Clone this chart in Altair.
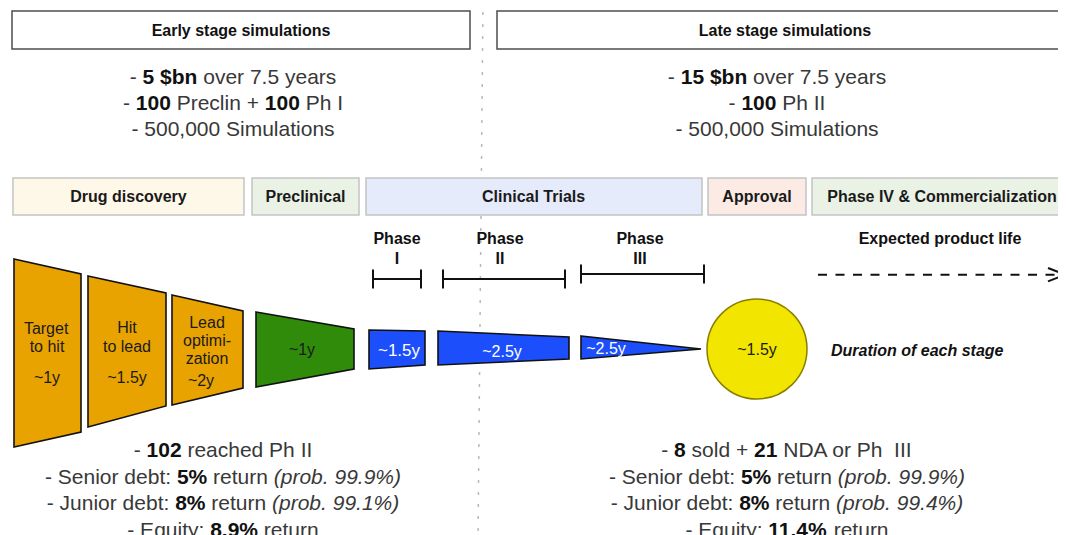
import altair as alt
import pandas as pd

# ---------------- content ----------------
PANEL_TITLES = ["Early stage simulations", "Late stage simulations"]
PANEL_X0 = [12, 497]
PANEL_X1 = [470, 1095]
PANEL_CX = [241, 785]

EARLY_FACTS = [
    [("- ", "r"), ("5 $bn", "b"), (" over 7.5 years", "r")],
    [("- ", "r"), ("100", "b"), (" Preclin + ", "r"), ("100", "b"), (" Ph I", "r")],
    [("- 500,000 Simulations", "r")],
]
LATE_FACTS = [
    [("- ", "r"), ("15 $bn", "b"), (" over 7.5 years", "r")],
    [("- ", "r"), ("100", "b"), (" Ph II", "r")],
    [("- 500,000 Simulations", "r")],
]
FACT_Y = [77, 103, 129]
FACT_CX = [233, 777]

EARLY_RESULTS = [
    [("- ", "r"), ("102", "b"), (" reached Ph II", "r")],
    [("- Senior debt: ", "r"), ("5%", "b"), (" return ", "r"), ("(prob. 99.9%)", "i")],
    [("- Junior debt: ", "r"), ("8%", "b"), (" return ", "r"), ("(prob. 99.1%)", "i")],
    [("- Equity: ", "r"), ("8.9%", "b"), (" return", "r")],
]
LATE_RESULTS = [
    [("- ", "r"), ("8", "b"), (" sold + ", "r"), ("21", "b"), (" NDA or Ph\u00a0 III", "r")],
    [("- Senior debt: ", "r"), ("5%", "b"), (" return ", "r"), ("(prob. 99.9%)", "i")],
    [("- Junior debt: ", "r"), ("8%", "b"), (" return ", "r"), ("(prob. 99.4%)", "i")],
    [("- Equity: ", "r"), ("11.4%", "b"), (" return", "r")],
]
RESULT_Y = [450, 477, 503, 530]
RESULT_CX = [223, 787]

STAGE_NAMES = ["Drug discovery", "Preclinical", "Clinical Trials", "Approval",
               "Phase IV & Commercialization"]
STAGE_X0 = [13, 252, 366, 708, 812]
STAGE_X1 = [244, 359, 702, 806, 1095]
STAGE_TEXT_X = [128.5, 305.5, 534, 757, 942]
STAGE_FILL = ["#FEF8E8", "#EAF2E6", "#E6EBFB", "#FBEBE4", "#EAF2E6"]

PHASE_NUMS = ["I", "II", "III"]
PHASE_CX = [397, 500, 640]
PHASE_X0 = [373, 443, 581]
PHASE_X1 = [421, 565, 704]
PHASE_BAR_Y = [279, 279, 274]

SHAPE_NAMES = ["Target to hit", "Hit to lead", "Lead optimization", "Preclinical",
               "Phase I", "Phase II", "Phase III"]
SHAPE_FILL = ["#E9A301", "#E9A301", "#E9A301", "#2F8B09", "#1C4FFB", "#1C4FFB", "#1C4FFB"]
SHAPE_X0 = [14, 88, 172, 256, 369, 438, 581]
SHAPE_X1 = [81, 166, 243, 354, 425, 569, 701]
SHAPE_TOP0 = [259, 276, 295, 312, 330, 331, 336]
SHAPE_TOP1 = [274, 293, 311, 329, 331, 337, 349]
SHAPE_BOT0 = [447, 427, 405, 387, 369, 365, 359]
SHAPE_BOT1 = [432, 406, 388, 369, 365, 359, 349]

SHAPE_TEXT = ["Target", "to hit", "~1y", "Hit", "to lead", "~1.5y", "Lead", "optimi-",
              "zation", "~2y", "~1y", "~1.5y", "~2.5y", "~2.5y", "~1.5y"]
SHAPE_TEXT_X = [47, 47, 47, 127, 127, 127, 207, 207, 207, 201, 302, 399, 502, 606, 757]
SHAPE_TEXT_Y = [328, 346, 377, 327, 346, 377, 322, 340, 358, 380, 349, 350, 351, 348, 349]
SHAPE_TEXT_SIZE = [16, 16, 16, 16, 16, 16, 16, 16, 16, 16, 16, 17, 16, 16, 16]
SHAPE_TEXT_COLOR = ["#1a1a1a"] * 11 + ["#ffffff"] * 3 + ["#1a1a1a"]

APPROVAL_CX, APPROVAL_CY, APPROVAL_D = 757, 349, 100
LIFE_LABEL = "Expected product life"
NOTE_LABEL = "Duration of each stage"

# ---------------- Helvetica / Liberation Sans metrics ----------------
_UP = "ABCDEFGHIJKLMNOPQRSTUVWXYZ"
_LO = "abcdefghijklmnopqrstuvwxyz"
REG_W = {' ': 278, '!': 278, '"': 355, '#': 556, '$': 556, '%': 889, '&': 667, "'": 191,
         '(': 333, ')': 333, '*': 389, '+': 584, ',': 278, '-': 333, '.': 278, '/': 278,
         ':': 278, ';': 278, '?': 556, '~': 584, '\u00a0': 278}
BOLD_W = {' ': 278, '!': 333, '"': 474, '#': 556, '$': 556, '%': 889, '&': 722, "'": 238,
          '(': 333, ')': 333, '*': 389, '+': 584, ',': 278, '-': 333, '.': 278, '/': 278,
          ':': 333, ';': 333, '?': 611, '~': 584, '\u00a0': 278}
for d in "0123456789":
    REG_W[d] = 556
    BOLD_W[d] = 556
REG_W.update(zip(_UP, [667, 667, 722, 722, 667, 611, 778, 722, 278, 500, 667, 556, 833,
                       722, 778, 667, 778, 722, 667, 611, 722, 667, 944, 667, 667, 611]))
REG_W.update(zip(_LO, [556, 556, 500, 556, 556, 278, 556, 556, 222, 222, 500, 222, 833,
                       556, 556, 556, 556, 333, 500, 278, 556, 500, 722, 500, 500, 500]))
BOLD_W.update(zip(_UP, [722, 722, 722, 722, 667, 611, 778, 722, 278, 556, 722, 611, 833,
                        722, 778, 667, 778, 722, 667, 611, 722, 667, 944, 667, 667, 611]))
BOLD_W.update(zip(_LO, [556, 611, 556, 611, 556, 333, 611, 611, 278, 278, 556, 278, 889,
                        611, 611, 611, 611, 389, 556, 333, 611, 556, 778, 556, 556, 500]))


def text_width(s, style, size):
    tbl = BOLD_W if "b" in style else REG_W
    return sum(tbl.get(c, 556) for c in s) * size / 1000.0


rows = []


def add_line(segs, cx, y, size, reg_color="#383838", bold_color="#111111", align="center"):
    widths = [text_width(t, st, size) for t, st in segs]
    cur = cx - sum(widths) / 2 if align == "center" else cx
    for (t, st), w in zip(segs, widths):
        lead = len(t) - len(t.lstrip(" "))
        rows.append(dict(x=cur + text_width(" " * lead, st, size), y=y + 0.07 * size,
                         text=t.strip(" "), size=size, style=st,
                         color=bold_color if "b" in st else reg_color))
        cur += w


for title, cx in zip(PANEL_TITLES, PANEL_CX):
    add_line([(title, "b")], cx, 30, 16)
for facts, cx in zip([EARLY_FACTS, LATE_FACTS], FACT_CX):
    for segs, y in zip(facts, FACT_Y):
        add_line(segs, cx, y, 21)
for res, cx in zip([EARLY_RESULTS, LATE_RESULTS], RESULT_CX):
    for segs, y in zip(res, RESULT_Y):
        add_line(segs, cx, y, 21)
for name, cx in zip(STAGE_NAMES, STAGE_TEXT_X):
    add_line([(name, "b")], cx, 196, 16, bold_color="#1a1a1a")
for num, cx in zip(PHASE_NUMS, PHASE_CX):
    add_line([("Phase", "b")], cx, 238, 16, bold_color="#111111")
    add_line([(num, "b")], cx, 258, 16, bold_color="#111111")
add_line([(LIFE_LABEL, "b")], 940, 238, 16)
add_line([(NOTE_LABEL, "bi")], 831, 350, 16, align="left")
for t, x, y, s, c in zip(SHAPE_TEXT, SHAPE_TEXT_X, SHAPE_TEXT_Y, SHAPE_TEXT_SIZE, SHAPE_TEXT_COLOR):
    add_line([(t, "r")], x, y, s, reg_color=c)

text_df = pd.DataFrame(rows)

# ---------------- geometry tables ----------------
XS = alt.Scale(domain=[8, 1058], nice=False, zero=False)
YS = alt.Scale(domain=[8, 535], reverse=True, nice=False, zero=False)

rect_rows = []
for x0, x1 in zip(PANEL_X0, PANEL_X1):
    rect_rows.append(dict(x=x0, x2=x1, y=11, y2=49, fill="#ffffff", stroke="#4d4d4d"))
for x0, x1, f in zip(STAGE_X0, STAGE_X1, STAGE_FILL):
    rect_rows.append(dict(x=x0, x2=x1, y=178, y2=215, fill=f, stroke="#c4c4c4"))
rect_df = pd.DataFrame(rect_rows)

area_rows = []
for n, f, x0, x1, t0, t1, b0, b1 in zip(SHAPE_NAMES, SHAPE_FILL, SHAPE_X0, SHAPE_X1,
                                        SHAPE_TOP0, SHAPE_TOP1, SHAPE_BOT0, SHAPE_BOT1):
    area_rows.append(dict(shape=n, fill=f, x=x0, top=t0, bot=b0))
    area_rows.append(dict(shape=n, fill=f, x=x1, top=t1, bot=b1))
area_df = pd.DataFrame(area_rows)

seg_rows = []
for x0, x1, yb in zip(PHASE_X0, PHASE_X1, PHASE_BAR_Y):
    seg_rows.append(dict(x=x0, x2=x1, y=yb, y2=yb))
    seg_rows.append(dict(x=x0, x2=x0, y=yb - 9.5, y2=yb + 9.5))
    seg_rows.append(dict(x=x1, x2=x1, y=yb - 9.5, y2=yb + 9.5))
# arrow head of product-life arrow
seg_rows.append(dict(x=1048, x2=1065, y=268, y2=274.7))
seg_rows.append(dict(x=1048, x2=1065, y=281.4, y2=274.7))
seg_df = pd.DataFrame(seg_rows)

dash_df = pd.DataFrame([dict(x=818, x2=1063, y=274.7, y2=274.7)])
divider_df = pd.DataFrame([dict(x=483, x2=478, y=0, y2=540)])
circle_df = pd.DataFrame([dict(x=APPROVAL_CX, y=APPROVAL_CY)])


def seg_enc(ch):
    return ch.encode(
        x=alt.X("x:Q", scale=XS, axis=None), x2="x2:Q",
        y=alt.Y("y:Q", scale=YS, axis=None), y2="y2:Q")


divider = seg_enc(alt.Chart(divider_df).mark_rule(
    color="#b8b8b8", strokeWidth=1.5, strokeDash=[3, 9]))

rects = alt.Chart(rect_df).mark_rect(strokeWidth=1.5).encode(
    x=alt.X("x:Q", scale=XS, axis=None), x2="x2:Q",
    y=alt.Y("y:Q", scale=YS, axis=None), y2="y2:Q",
    fill=alt.Fill("fill:N", scale=None), stroke=alt.Stroke("stroke:N", scale=None))

shapes = alt.Chart(area_df).mark_area(stroke="#111111", strokeWidth=1.6,
                                      interpolate="linear", opacity=1).encode(
    x=alt.X("x:Q", scale=XS, axis=None),
    y=alt.Y("top:Q", scale=YS, axis=None, stack=None), y2="bot:Q",
    fill=alt.Fill("fill:N", scale=None), detail="shape:N")

circle = alt.Chart(circle_df).mark_circle(
    size=APPROVAL_D ** 2, color="#F2E500", stroke="#8A7E00", strokeWidth=1.5, opacity=1
).encode(x=alt.X("x:Q", scale=XS, axis=None), y=alt.Y("y:Q", scale=YS, axis=None))

brackets = seg_enc(alt.Chart(seg_df).mark_rule(color="#111111", strokeWidth=2))
dashed = seg_enc(alt.Chart(dash_df).mark_rule(color="#111111", strokeWidth=2,
                                              strokeDash=[9, 8.5]))

STYLE_FONT = {"r": ("normal", "normal"), "b": ("bold", "normal"),
              "i": ("normal", "italic"), "bi": ("bold", "italic")}
text_layers = []
for st, (fw, fs) in STYLE_FONT.items():
    sub = text_df[text_df["style"] == st]
    if len(sub) == 0:
        continue
    text_layers.append(alt.Chart(sub).mark_text(
        align="left", baseline="middle", font="Liberation Sans", fontWeight=fw, fontStyle=fs
    ).encode(
        x=alt.X("x:Q", scale=XS, axis=None), y=alt.Y("y:Q", scale=YS, axis=None),
        text="text:N", size=alt.Size("size:Q", scale=None),
        color=alt.Color("color:N", scale=None)))

chart = alt.layer(divider, rects, shapes, circle, brackets, dashed, *text_layers).properties(
    width=1050, height=527, padding=0, autosize=alt.AutoSizeParams(type="none"),
    background="#ffffff"
).configure_view(stroke=None)

chart.save("out.html", embed_options={"renderer": "svg", "actions": False})
